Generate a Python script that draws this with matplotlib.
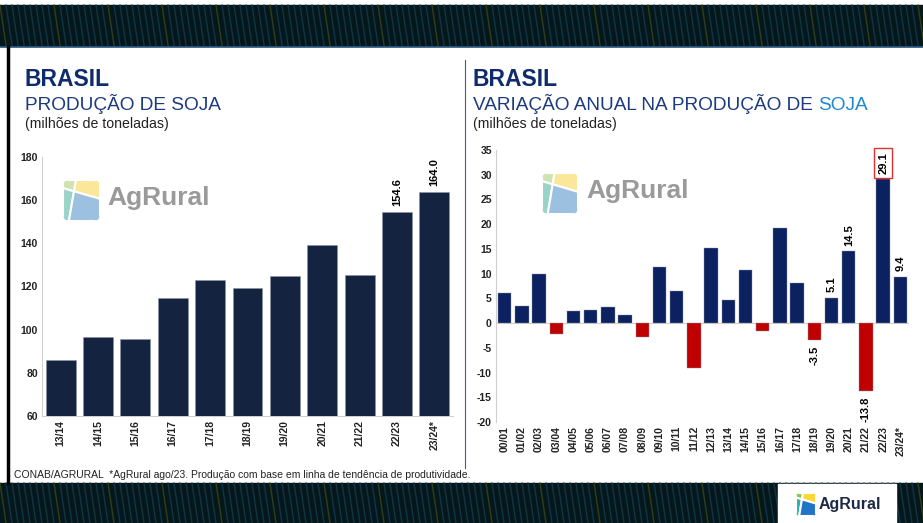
import matplotlib
matplotlib.use("Agg")
import matplotlib.pyplot as plt
from matplotlib.patches import Polygon, Rectangle, FancyBboxPatch

# ---- data ----
prod_seasons = ["13/14", "14/15", "15/16", "16/17", "17/18", "18/19",
                "19/20", "20/21", "21/22", "22/23", "23/24*"]
prod_values = [86.1, 96.8, 95.5, 114.7, 123.0, 119.3, 124.8, 139.1, 125.5, 154.6, 164.0]
prod_labelled = ["22/23", "23/24*"]

var_seasons = ["00/01", "01/02", "02/03", "03/04", "04/05", "05/06", "06/07", "07/08",
               "08/09", "09/10", "10/11", "11/12", "12/13", "13/14", "14/15", "15/16",
               "16/17", "17/18", "18/19", "19/20", "20/21", "21/22", "22/23", "23/24*"]
var_values = [6.0, 3.4, 10.0, -2.2, 2.4, 2.6, 3.2, 1.6, -2.9, 11.4, 6.5, -9.0,
              15.1, 4.6, 10.8, -1.5, 19.2, 8.2, -3.5, 5.1, 14.5, -13.8, 29.1, 9.4]
var_labelled = ["18/19", "19/20", "20/21", "21/22", "23/24*"]
var_boxed = "22/23"

caption = ("CONAB/AGRURAL  *AgRural ago/23. Produção com base em linha de "
           "tendência de produtividade.")

W, H = 923, 523
NAVY_TITLE = "#0E2B6B"
SUB = "#1C3A7E"
BAR_L = "#14233F"
BAR_R = "#0B2160"
RED = "#C00000"
plt.rcParams['font.family'] = ['Liberation Sans', 'DejaVu Sans']
plt.rcParams['axes.unicode_minus'] = False

fig = plt.figure(figsize=(W / 100, H / 100), dpi=100)
fig.patch.set_facecolor("white")


def rect(x0, y0, x1, y1):
    # pixel box (top-left origin) -> figure fraction
    return [x0 / W, 1 - y1 / H, (x1 - x0) / W, (y1 - y0) / H]


def fy(y):
    return 1 - y / H


# overlay in pixel coords for decoration
bg = fig.add_axes([0, 0, 1, 1], zorder=0)
bg.set_xlim(0, W)
bg.set_ylim(H, 0)
bg.axis("off")


def banner(y0, y1):
    bg.add_patch(Rectangle((0, y0), W, y1 - y0, color="#06171B", zorder=1))
    for i in range(0, W, 6):
        col = "#0F3E52" if (i // 6) % 9 else "#3A4A16"
        bg.plot([i, i + (y1 - y0) * 0.15], [y0, y1], color=col, lw=1.0, alpha=0.8, zorder=2)


banner(5, 46)
banner(483, H)
bg.plot([0, W], [46.5, 46.5], color="#2E5C8A", lw=1.2, zorder=3)
bg.plot([8, 8], [47, 483], color="black", lw=2.5, zorder=3)
bg.plot([465, 465], [60, 468], color="#3B5BA0", lw=0.8, zorder=3)


def logo(ax, x0, y0, w, h, cols, text, tcol, tsize, tx, ty):
    clip = FancyBboxPatch((x0, y0), w, h, boxstyle="round,pad=0,rounding_size=%f" % (w * 0.18),
                          fc="none", ec="none", transform=ax.transData)
    ax.add_patch(clip)
    pts = [
        [(0, 0), (0.35, 0), (0.297, 0.277), (0, 0.2)],
        [(0.35, 0), (1, 0), (1, 0.46), (0.297, 0.277)],
        [(0, 0.2), (0.297, 0.277), (0.16, 1), (0, 1)],
        [(0.297, 0.277), (1, 0.46), (1, 1), (0.16, 1)],
    ]
    for p, c in zip(pts, cols):
        poly = Polygon([(x0 + a * w, y0 + b * h) for a, b in p], closed=True,
                       fc=c, ec="white", lw=1.5, zorder=6)
        ax.add_patch(poly)
        poly.set_clip_path(clip)
    ax.text(tx, ty, text, color=tcol, fontsize=tsize, fontweight="bold",
            va="center", ha="left", zorder=6)


faded = ["#CFE3B0", "#FBE79A", "#9AD3C8", "#9CC0E0"]
bright = ["#8DC63F", "#FDD835", "#2BB3A3", "#1F74C7"]

# bottom-right logo box
bg.add_patch(Rectangle((778, 484), 118, 39, color="white", zorder=4))
logo(bg, 796, 493, 20, 23, bright, "AgRural", "#1E2A44", 11.5, 819, 505)

# titles
for x0 in [25, 473]:
    fig.text(x0 / W, fy(86), "BRASIL", fontsize=16.5, fontweight="bold",
             color=NAVY_TITLE, va="baseline")
    fig.text(x0 / W, fy(128), "(milhões de toneladas)", fontsize=10.2,
             color="#222222", va="baseline")
fig.text(25 / W, fy(110), "PRODUÇÃO DE SOJA", fontsize=13.7, color=SUB, va="baseline")
t1 = fig.text(473 / W, fy(110), "VARIAÇÃO ANUAL NA PRODUÇÃO DE ", fontsize=13.7,
              color=SUB, va="baseline")
fig.canvas.draw()
bb = t1.get_window_extent()
fig.text(bb.x1 / W, fy(110), "SOJA", fontsize=13.7, color="#1E88D0", va="baseline")

fig.text(14 / W, fy(475), caption, fontsize=7.5, color="#222222", va="center",
         family=["Liberation Sans Narrow", "Liberation Sans", "DejaVu Sans"])


def style_axes(ax):
    ax.set_facecolor("none")
    for s in ["top", "right"]:
        ax.spines[s].set_visible(False)
    ax.spines["left"].set_color("#D0D0D0")
    ax.spines["bottom"].set_color("#D0D0D0")
    ax.tick_params(length=0, labelsize=7.5, colors="#222222", pad=3)
    for lab in ax.get_yticklabels() + ax.get_xticklabels():
        lab.set_fontweight("bold")


# ---- left chart ----
axl = fig.add_axes(rect(42, 157, 453, 416), zorder=2)
xl = range(len(prod_seasons))
axl.bar(xl, prod_values, width=0.8, color=BAR_L, edgecolor="#8C95A5", linewidth=0.4, zorder=3)
axl.set_xlim(-0.5, len(prod_seasons) - 0.5)
axl.set_ylim(60, 180)
axl.set_yticks(range(60, 181, 20))
axl.set_xticks(list(xl))
axl.set_xticklabels(prod_seasons, rotation=90)
style_axes(axl)
for i, (s, v) in enumerate(zip(prod_seasons, prod_values)):
    if s in prod_labelled:
        axl.annotate(f"{v:.1f}", (i, v), xytext=(0, 4), textcoords="offset points",
                     rotation=90, ha="center", va="bottom", fontsize=8, fontweight="bold")

# ---- right chart ----
axr = fig.add_axes(rect(496, 150, 909, 422), zorder=2)
xr = range(len(var_seasons))
cols = [BAR_R if v >= 0 else RED for v in var_values]
axr.bar(xr, var_values, width=0.78, color=cols, edgecolor="#8C95A5", linewidth=0.3, zorder=3)
axr.axhline(0, color="#D0D0D0", lw=0.8, zorder=2)
axr.set_xlim(-0.5, len(var_seasons) - 0.5)
axr.set_ylim(-20, 35)
axr.set_yticks(range(-20, 36, 5))
axr.set_xticks(list(xr))
axr.set_xticklabels(var_seasons, rotation=90)
style_axes(axr)
axr.spines["bottom"].set_visible(False)
for i, (s, v) in enumerate(zip(var_seasons, var_values)):
    if s in var_labelled:
        if v >= 0:
            axr.annotate(f"{v:.1f}", (i, v), xytext=(0, 4), textcoords="offset points",
                         rotation=90, ha="center", va="bottom", fontsize=8, fontweight="bold")
        else:
            axr.annotate(f"{v:.1f}", (i, v), xytext=(0, -4), textcoords="offset points",
                         rotation=90, ha="center", va="top", fontsize=8, fontweight="bold")
    elif s == var_boxed:
        axr.annotate(f"{v:.1f}", (i, v), xytext=(0, 4), textcoords="offset points",
                     rotation=90, ha="center", va="bottom", fontsize=8, fontweight="bold",
                     bbox=dict(boxstyle="square,pad=0.35", fc="white", ec="#E03030", lw=1.0),
                     zorder=5)

# watermark logos (drawn above the axes layer)
wm = fig.add_axes([0, 0, 1, 1], zorder=3)
wm.set_xlim(0, W)
wm.set_ylim(H, 0)
wm.axis("off")
logo(wm, 63, 180, 37, 41, faded, "AgRural", "#9A9A9A", 19, 107, 198)
logo(wm, 542, 173, 36, 41, faded, "AgRural", "#9A9A9A", 19, 586, 191)

fig.savefig("out.png", dpi=100)
